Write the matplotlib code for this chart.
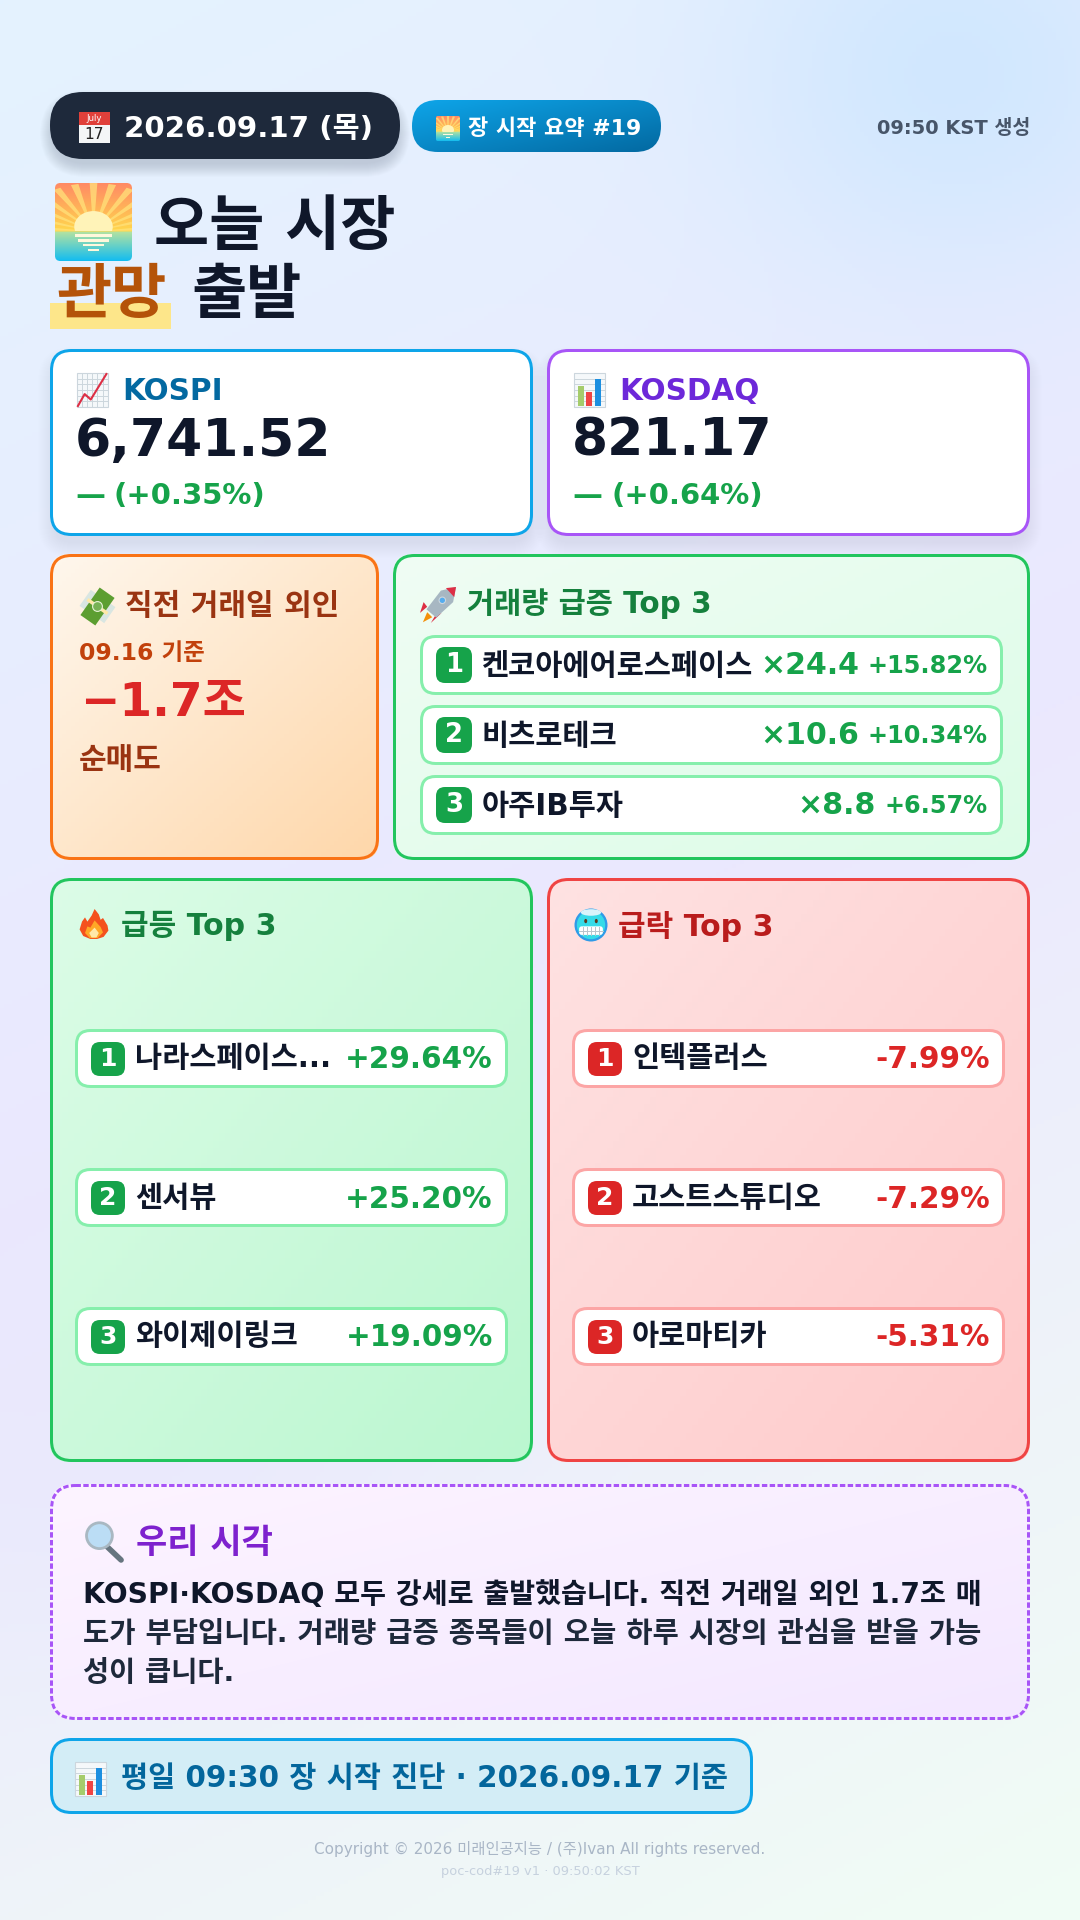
import numpy as np
import matplotlib
matplotlib.use("Agg")
import matplotlib.pyplot as plt
from matplotlib.patches import FancyBboxPatch, Rectangle, Circle, Polygon, Ellipse
from matplotlib.colors import to_rgb

plt.rcParams['font.family'] = ['DejaVu Sans', 'Noto Sans CJK KR']

# values
date_label = "2026.09.17 (목)"
badge_label = "장 시작 요약 #19"
time_label = "09:50 KST 생성"
indexes = ["KOSPI", "KOSDAQ"]
index_values = ["6,741.52", "821.17"]
index_changes = ["(+0.35%)", "(+0.64%)"]
volume_names = ["켄코아에어로스페이스", "비츠로테크", "아주IB투자"]
volume_ratio = ["×24.4", "×10.6", "×8.8"]
volume_change = ["+15.82%", "+10.34%", "+6.57%"]
up_names = ["나라스페이스...", "센서뷰", "와이제이링크"]
up_values = ["+29.64%", "+25.20%", "+19.09%"]
down_names = ["인텍플러스", "고스트스튜디오", "아로마티카"]
down_values = ["-7.99%", "-7.29%", "-5.31%"]

fig = plt.figure(figsize=(10.8, 19.2), dpi=100)
ax = fig.add_axes([0, 0, 1, 1])
ax.set_xlim(0, 1080)
ax.set_ylim(1920, 0)
ax.axis('off')
ax.autoscale(False)
renderer = fig.canvas.get_renderer()

# page background
yy, xx = np.mgrid[0:1920:4, 0:1080:4]
t = (xx * 0.5 + yy) / 2460
stops = [to_rgb("#e4f3ff"), to_rgb("#ebe8fe"), to_rgb("#f1fdf5")]
bg = np.zeros(xx.shape + (3,))
for c in range(3):
    bg[..., c] = np.interp(t, [0, 0.5, 1], [stops[0][c], stops[1][c], stops[2][c]])
glow = np.exp(-(((xx - 950) / 230) ** 2 + ((yy - 70) / 210) ** 2))[..., None]
bg = bg * (1 - glow * 0.9) + np.array(to_rgb("#cfe7ff")) * glow * 0.9
glow2 = np.exp(-(((xx - 120) / 300) ** 2 + ((yy - 1450) / 200) ** 2))[..., None]
bg = bg * (1 - glow2 * 0.5) + np.array(to_rgb("#e8e6fd")) * glow2 * 0.5
ax.imshow(bg, extent=(0, 1080, 1920, 0), aspect='auto', zorder=0)


def rbox(x0, y0, x1, y1, r, **kw):
    # css borders sit inside the box, so pull the outline in by half its width
    d = 0
    if kw.get('ec', 'none') != 'none':
        d = kw.get('lw', 0) / 0.72 / 2
    p = FancyBboxPatch((x0 + d, y0 + d), x1 - x0 - 2 * d, y1 - y0 - 2 * d,
                       boxstyle=f"round,pad=0,rounding_size={r}", **kw)
    ax.add_patch(p)
    return p


def shadow(x0, y0, x1, y1, r, dy=10, spread=16, a=0.004):
    for i in range(spread):
        rbox(x0 - i + 3, y0 + dy - i + 3, x1 + i - 3, y1 + dy + i - 3, r + i, fc="#1e293b", ec='none', alpha=a, zorder=1)


def grad_box(x0, y0, x1, y1, r, c0, c1, ec, lw=3, ls='-', z=2):
    u, v = np.meshgrid(np.linspace(0, 1, 80), np.linspace(0, 1, 80))
    k = ((u + v) / 2)[..., None]
    img = np.array(to_rgb(c0)) * (1 - k) + np.array(to_rgb(c1)) * k
    p = rbox(x0, y0, x1, y1, r, fc='none', ec='none', zorder=z)
    im = ax.imshow(img, extent=(x0, x1, y1, y0), aspect='auto', zorder=z)
    im.set_clip_path(p)
    if ec:
        rbox(x0, y0, x1, y1, r, fc='none', ec=ec, lw=lw * 0.72, ls=ls, zorder=z + 0.1)


def label(x, y, s, px, color="#0f172a", ha='left', weight='bold', z=6, **kw):
    return ax.text(x, y, s, fontsize=px * 0.72, color=color, ha=ha, va='center', fontweight=weight, zorder=z, **kw)


# small icons, drawn by hand because no emoji font is installed
def icon_calendar(x, y, s):
    ax.add_patch(Rectangle((x, y), s, s, fc="#f4f6f7", ec='none', zorder=6))
    ax.add_patch(Rectangle((x, y), s, s * 0.42, fc="#e0403a", ec='none', zorder=6))
    ax.text(x + s / 2, y + s * 0.22, "July", fontsize=s * 0.2, color="white", ha='center', va='center', zorder=7)
    ax.text(x + s / 2, y + s * 0.72, "17", fontsize=s * 0.36, color="#222", ha='center', va='center', zorder=7)


def icon_sun(x0, y0, x1, y1, z=6):
    k = np.linspace(0, 1, 90)[:, None, None]
    top = np.array(to_rgb("#ff8a65")) * (1 - k / 0.62) + np.array(to_rgb("#ffd84d")) * (k / 0.62)
    bot = np.array(to_rgb("#b6e3a0")) * (1 - (k - 0.62) / 0.38) + np.array(to_rgb("#14bdf0")) * ((k - 0.62) / 0.38)
    img = np.where(k < 0.62, top, bot)
    p = rbox(x0, y0, x1, y1, (x1 - x0) * 0.07, fc='none', ec='none', zorder=z)
    im = ax.imshow(img, extent=(x0, x1, y1, y0), aspect='auto', zorder=z)
    im.set_clip_path(p)
    w, h = x1 - x0, y1 - y0
    cx, cy = (x0 + x1) / 2, y0 + h * 0.62
    for a in np.linspace(185, 355, 13):
        ra = np.radians(a)
        ray = Polygon([(cx, cy), (cx + w * np.cos(ra - 0.05), cy + h * 0.62 * np.sin(ra - 0.05)),
                       (cx + w * np.cos(ra + 0.05), cy + h * 0.62 * np.sin(ra + 0.05))], fc="#ffe27a", ec='none', alpha=0.75, zorder=z + 0.1)
        ax.add_patch(ray)
        ray.set_clip_path(p)
    sun = Ellipse((cx, y0 + h * 0.56), w * 0.5, h * 0.4, fc="#fff3b8", ec='none', zorder=z + 0.2)
    ax.add_patch(sun)
    sun.set_clip_path(Rectangle((x0, y0), w, h * 0.62, transform=ax.transData))
    for f, ww in [(0.66, 0.48), (0.72, 0.4), (0.78, 0.28), (0.84, 0.14)]:
        ax.add_patch(Rectangle((cx - w * ww / 2, y0 + h * f), w * ww, h * 0.03, fc="#fff8dc", ec='none', zorder=z + 0.3))


def icon_chart(x, y, s, bars=False):
    w = s * 0.9
    ax.add_patch(Rectangle((x, y), w, s, fc="#f5f8fa", ec="#ccd6dd", lw=0.8, zorder=6))
    for i in range(1, 6):
        ax.plot([x, x + w], [y + s * i / 6] * 2, color="#ccd6dd", lw=0.7, zorder=6.1)
        if not bars:
            ax.plot([x + w * i / 6] * 2, [y, y + s], color="#ccd6dd", lw=0.7, zorder=6.1)
    if bars:
        for f, hh, c in [(0.12, 0.58, "#a5cc6b"), (0.4, 0.42, "#ef4444"), (0.68, 0.8, "#1d8fe0")]:
            ax.add_patch(Rectangle((x + w * f, y + s * (0.97 - hh)), w * 0.2, s * hh, fc=c, ec='none', zorder=6.2))
    else:
        ax.plot([x + w * 0.03, x + w * 0.25, x + w * 0.45, x + w * 0.96], [y + s * 0.97, y + s * 0.62, y + s * 0.78, y + s * 0.03],
                color="#dd2e44", lw=1.5, zorder=6.2)


def icon_money(x, y, s):
    c = (x + s / 2, y + s / 2)
    a = np.radians(-55)
    d = np.array([np.cos(a), np.sin(a)])
    n = np.array([-d[1], d[0]])
    for off, col, ww in [(-0.28, "#d9e6e2", 0.3), (0.28, "#d9e6e2", 0.3)]:
        q = np.array(c) + n * s * off
        pts = [q + d * s * 0.28 + n * s * ww / 2, q + d * s * 0.28 - n * s * ww / 2, q - d * s * 0.28 - n * s * ww / 2, q - d * s * 0.28 + n * s * ww / 2]
        ax.add_patch(Polygon(pts, fc=col, ec='none', zorder=6))
    pts = [np.array(c) + d * s * 0.48 + n * s * 0.26, np.array(c) + d * s * 0.48 - n * s * 0.26,
           np.array(c) - d * s * 0.48 - n * s * 0.26, np.array(c) - d * s * 0.48 + n * s * 0.26]
    ax.add_patch(Polygon(pts, fc="#5c9e31", ec='none', zorder=6.1))
    ax.add_patch(Circle(c, s * 0.14, fc="#77b255", ec="#e8f2d8", lw=0.8, zorder=6.2))
    ax.plot([c[0] - n[0] * s * 0.3, c[0] + n[0] * s * 0.3], [c[1] - n[1] * s * 0.3, c[1] + n[1] * s * 0.3], color="#ffe8a8", lw=2.5, zorder=6.15)


def icon_rocket(x, y, s):
    pts = [(x + s, y), (x + s * 0.92, y + s * 0.42), (x + s * 0.45, y + s * 0.85), (x + s * 0.18, y + s * 0.62), (x + s * 0.58, y + s * 0.1)]
    ax.add_patch(Polygon([(x + s * 0.2, y + s * 0.55), (x, y + s * 0.72), (x + s * 0.1, y + s * 0.42)], fc="#dd2e44", ec='none', zorder=6))
    ax.add_patch(Polygon([(x + s * 0.42, y + s * 0.8), (x + s * 0.3, y + s), (x + s * 0.6, y + s * 0.72)], fc="#dd2e44", ec='none', zorder=6))
    ax.add_patch(Polygon([(x + s * 0.2, y + s * 0.7), (x + s * 0.08, y + s * 0.98), (x + s * 0.34, y + s * 0.84)], fc="#f4900c", ec='none', zorder=6))
    ax.add_patch(Polygon(pts, fc="#a7b7c2", ec='none', zorder=6.1))
    ax.add_patch(Polygon([(x + s, y), (x + s * 0.95, y + s * 0.28), (x + s * 0.72, y + s * 0.03)], fc="#dd2e44", ec='none', zorder=6.2))
    ax.add_patch(Circle((x + s * 0.62, y + s * 0.37), s * 0.09, fc="#55acee", ec="#ccd6dd", lw=0.8, zorder=6.2))


def icon_fire(x, y, s):
    outer = [(0.52, 0), (0.66, 0.18), (0.72, 0.36), (0.8, 0.3), (0.95, 0.55), (0.98, 0.72), (0.82, 0.93), (0.6, 1), (0.38, 1), (0.14, 0.9),
             (0.02, 0.68), (0.1, 0.42), (0.2, 0.28), (0.28, 0.42), (0.42, 0.22)]
    mid = [(0.52, 0.38), (0.72, 0.6), (0.8, 0.78), (0.62, 0.97), (0.36, 0.97), (0.2, 0.8), (0.28, 0.58), (0.38, 0.62)]
    core = [(0.52, 0.62), (0.66, 0.8), (0.58, 0.95), (0.42, 0.95), (0.34, 0.8)]
    for shape, col, z in [(outer, "#f4511e", 6), (mid, "#ffa726", 6.1), (core, "#ffe9a8", 6.2)]:
        ax.add_patch(Polygon([(x + s * a, y + s * b) for a, b in shape], fc=col, ec='none', zorder=z))


def icon_cold(cx, cy, s):
    ax.add_patch(Circle((cx, cy), s / 2, fc="#2f9be8", ec='none', zorder=6))
    ax.add_patch(Circle((cx, cy), s * 0.43, fc="#35dbe8", ec='none', zorder=6.05))
    ax.add_patch(Ellipse((cx, cy - s * 0.38), s * 0.62, s * 0.2, fc="#d8f4fb", ec='none', zorder=6.08))
    rbox(cx - s * 0.36, cy + s * 0.04, cx + s * 0.36, cy + s * 0.3, s * 0.08, fc="white", ec='none', zorder=6.1)
    for f in (-0.24, -0.12, 0, 0.12, 0.24):
        ax.plot([cx + s * f] * 2, [cy + s * 0.05, cy + s * 0.29], color="#b8c4cc", lw=0.7, zorder=6.2)
    ax.plot([cx - s * 0.36, cx + s * 0.36], [cy + s * 0.17] * 2, color="#b8c4cc", lw=0.7, zorder=6.2)
    for f in (-0.16, 0.16):
        ax.add_patch(Ellipse((cx + s * f, cy - s * 0.12), s * 0.09, s * 0.13, fc="#5b3a1e", ec='none', zorder=6.2))


def icon_glass(x, y, s):
    ax.plot([x + s * 0.55, x + s * 0.95], [y + s * 0.62, y + s], color="#66757f", lw=4, zorder=6, solid_capstyle='round')
    ax.add_patch(Circle((x + s * 0.38, y + s * 0.36), s * 0.34, fc="#bbddf5", ec="#a9b8c2", lw=2, zorder=6.1))


# header
shadow(50, 92, 400, 159, 33, dy=8, spread=14, a=0.012)
rbox(50, 92, 400, 159, 33, fc="#1e293b", ec='none', zorder=3)
icon_calendar(79, 112, 31)
label(124, 129, date_label, 29.3, color="white")
grad_box(412, 100, 661, 152, 26, "#0ea5e9", "#0369a1", None)
icon_sun(436, 116, 460, 141, z=6)
label(468, 129, badge_label, 22, color="white")
label(1030, 129, time_label, 19.5, color="#475569", ha='right')

# headline
icon_sun(55, 183, 132, 261)
ax.add_patch(Rectangle((50, 303), 121, 26, fc="#fde68a", ec='none', zorder=2))
label(154, 229, "오늘 시장", 60)
label(56, 296, "관망", 60, color="#b45309")
label(191, 296, "출발", 60)

# index cards
card_x = [(50, 533), (547, 1030)]
card_edge = ["#0ea5e9", "#a855f7"]
card_text = ["#0369a1", "#6d28d9"]
for i in range(2):
    x0, x1 = card_x[i]
    shadow(x0, 349, x1, 536, 20)
    rbox(x0, 349, x1, 536, 20, fc="white", ec=card_edge[i], lw=2.16, zorder=3)
    icon_chart(x0 + 27, 373, 34, bars=(i == 1))
    label(x0 + 72, 391, indexes[i], 29.5, color=card_text[i])
    label(x0 + 25, 442, index_values[i], 52)
    label(x0 + 25, 496, "—", 30, color="#16a34a")
    label(x0 + 64, 496, index_changes[i], 29, color="#16a34a")

# foreign flow card
grad_box(50, 554, 379, 860, 20, "#fff7ed", "#fed7aa", "#f97316")
icon_money(80, 589, 35)
label(125, 606, "직전 거래일 외인", 30, color="#9a3412")
label(79, 654, "09.16 기준", 23.5, color="#c2410c")
label(80, 704, "−1.7조", 47, color="#dc2626")
label(79, 760, "순매도", 30, color="#9a3412")

# volume card
grad_box(393, 554, 1030, 860, 20, "#f0fdf4", "#dcfce7", "#22c55e")
icon_rocket(420, 587, 36)
label(467, 604, "거래량 급증 Top 3", 29.5, color="#15803d")
volume_rows = [635, 705, 775]
for i, y0 in enumerate(volume_rows):
    rbox(420, y0, 1003, y0 + 60, 14, fc="white", ec="#86efac", lw=2.16, zorder=3)
    rbox(436, y0 + 12, 472, y0 + 48, 9, fc="#16a34a", ec='none', zorder=4)
    label(454, y0 + 30, str(i + 1), 26, color="white", ha='center')
    label(482, y0 + 31, volume_names[i], 29.5)
    change = label(988, y0 + 31, volume_change[i], 24, color="#16a34a", ha='right')
    left = 988 - change.get_window_extent(renderer).width
    label(left - 9, y0 + 31, volume_ratio[i], 30, color="#16a34a", ha='right')

# top movers
panels = [(50, 533, "#dcfce7", "#bbf7d0", "#22c55e", "#15803d", "#86efac", "#16a34a", "급등 Top 3", up_names, up_values),
          (547, 1030, "#fee2e2", "#fecaca", "#ef4444", "#b91c1c", "#fca5a5", "#dc2626", "급락 Top 3", down_names, down_values)]
mover_rows = [1029, 1168, 1307]
for x0, x1, c0, c1, edge, head, rowedge, strong, title, names, vals in panels:
    grad_box(x0, 878, x1, 1462, 20, c0, c1, edge)
    label(x0 + 71, 926, title, 30, color=head)
    for i, y0 in enumerate(mover_rows):
        rbox(x0 + 25, y0, x1 - 25, y0 + 59, 14, fc="white", ec=rowedge, lw=2.16, zorder=3)
        rbox(x0 + 41, y0 + 13, x0 + 75, y0 + 47, 9, fc=strong, ec='none', zorder=4)
        label(x0 + 58, y0 + 30, str(i + 1), 25, color="white", ha='center')
        label(x0 + 85, y0 + 30, names[i], 29.5)
        label(x1 - 40, y0 + 31, vals[i], 29.5, color=strong, ha='right')
icon_fire(79, 909, 30)
icon_cold(591, 925, 33)

# our view
grad_box(50, 1484, 1030, 1720, 24, "#fdf4ff", "#f3e8ff", "#a855f7", ls=(0, (1.8, 0.8)))
icon_glass(85, 1522, 38)
label(136, 1544, "우리 시각", 34, color="#7e22ce")
label(83, 1595, "KOSPI·KOSDAQ 모두 강세로 출발했습니다. 직전 거래일 외인 1.7조 매", 28.2, color="#0f172a")
label(83, 1634, "도가 부담입니다. 거래량 급증 종목들이 오늘 하루 시장의 관심을 받을 가능", 28.6, color="#1e293b")
label(83, 1673, "성이 큽니다.", 28.4, color="#1e293b")

# footer
rbox(50, 1738, 753, 1814, 20, fc="#d3edf6", ec="#0ea5e9", lw=2.16, zorder=3)
icon_chart(75, 1762, 34, bars=True)
label(121, 1779, "평일 09:30 장 시작 진단 · 2026.09.17 기준", 29.5, color="#03669c")
label(540, 1849, "Copyright © 2026 미래인공지능 / (주)Ivan All rights reserved.", 15.3, color="#a9b6c6", ha='center', weight='normal')
label(540, 1871, "poc-cod#19 v1 · 09:50:02 KST", 13, color="#c6d1de", ha='center', weight='normal')

fig.savefig("out.png", dpi=100)
